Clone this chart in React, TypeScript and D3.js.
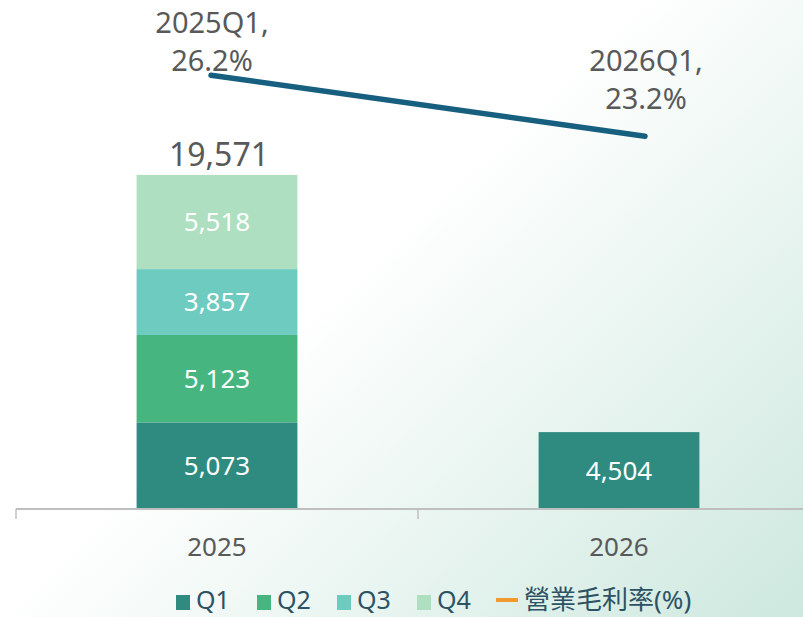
import React from "react";
import * as d3 from "d3";

const years = ["2025", "2026"];
const seriesNames = ["Q1", "Q2", "Q3", "Q4"];
const q1 = [5073, 4504];
const q2 = [5123, 0];
const q3 = [3857, 0];
const q4 = [5518, 0];
const totals = [19571, null];
const marginLabels = ["2025Q1", "2026Q1"];
const marginValues = [26.2, 23.2];
const lineName = "營業毛利率(%)";

const colors = ["#2f8b7f", "#47b57f", "#6dcbc0", "#aedfc0"];
const lineColor = "#175f7f";
const labelLift = [0, 23];
const W = 803;
const H = 617;
const FONT = "'Noto Sans', 'Noto Sans CJK TC', sans-serif";

export default function App() {
  const x = d3.scaleBand<string>().domain(years).range([16, 820]).paddingInner(0).paddingOuter(0);
  const y = d3.scaleLinear().domain([0, 24000]).range([509, 99.3]);
  const xLine = d3.scalePoint<string>().domain(marginLabels).range([211, 645]);
  const yLine = d3.scaleLinear().domain([0, 30]).range([608, -2]);

  const rows = years.map((yr, i) => ({ year: yr, Q1: q1[i], Q2: q2[i], Q3: q3[i], Q4: q4[i] }));
  const stack = d3.stack<any>().keys(seriesNames)(rows);
  const bw = x.bandwidth() * 0.4;

  const lineGen = d3
    .line<number>()
    .x((_, i) => xLine(marginLabels[i]) as number)
    .y((d) => yLine(d));

  const fmt = d3.format(",");

  const legendItems = [
    { label: "Q1", color: colors[0], x: 176 },
    { label: "Q2", color: colors[1], x: 257 },
    { label: "Q3", color: colors[2], x: 337 },
    { label: "Q4", color: colors[3], x: 417 },
  ];

  return (
    <svg width={W} height={H} style={{ position: "absolute", left: 0, top: 0 }} fontFamily={FONT}>
      <defs>
        <linearGradient id="bg" x1="0.38" y1="0.5" x2="1" y2="1">
          <stop offset="0" stopColor="#ffffff" />
          <stop offset="1" stopColor="#cde8de" />
        </linearGradient>
      </defs>
      <rect x={0} y={0} width={W} height={H} fill="url(#bg)" />

      {stack.map((s, si) =>
        s.map((d, i) => {
          const v = d[1] - d[0];
          if (!v) return null;
          const x0 = (x(years[i]) as number) + (x.bandwidth() - bw) / 2;
          const y0 = y(d[1]);
          const h = y(d[0]) - y(d[1]);
          return (
            <g key={`${si}-${i}`}>
              <rect x={x0} y={y0} width={bw} height={h} fill={colors[si]} />
              <text
                x={x0 + bw / 2}
                y={y0 + h / 2}
                dy="0.36em"
                textAnchor="middle"
                fill="#ffffff"
                fontSize={26}
              >
                {fmt(v)}
              </text>
            </g>
          );
        })
      )}

      {totals.map((t, i) =>
        t == null ? null : (
          <text
            key={`t${i}`}
            x={(x(years[i]) as number) + x.bandwidth() / 2 + 2}
            y={y(t) - 9}
            textAnchor="middle"
            fill="#595959"
            fontSize={32}
          >
            {fmt(t)}
          </text>
        )
      )}

      {/* axis */}
      <line x1={16} x2={W} y1={509} y2={509} stroke="#bfbfbf" strokeWidth={2} />
      {[...years.map((yr) => x(yr) as number), 16 + x.bandwidth() * 2].map((tx, i) => (
        <line key={`tk${i}`} x1={tx} x2={tx} y1={509} y2={519} stroke="#bfbfbf" strokeWidth={1.5} />
      ))}
      {years.map((yr) => (
        <text
          key={yr}
          x={(x(yr) as number) + x.bandwidth() / 2}
          y={556}
          textAnchor="middle"
          fill="#595959"
          fontSize={26}
        >
          {yr}
        </text>
      ))}

      {/* line */}
      <path d={lineGen(marginValues) || ""} fill="none" stroke={lineColor} strokeWidth={5.5} strokeLinecap="round" />
      {marginValues.map((v, i) => {
        const px = xLine(marginLabels[i]) as number;
        const py = yLine(v) - labelLift[i];
        return (
          <text key={`ml${i}`} x={px + 1} textAnchor="middle" fill="#595959" fontSize={29}>
            <tspan x={px + 1} y={py - 42}>{marginLabels[i] + ","}</tspan>
            <tspan x={px + 1} y={py - 4}>{v.toFixed(1) + "%"}</tspan>
          </text>
        );
      })}

      {/* legend */}
      {legendItems.map((it) => (
        <g key={it.label}>
          <rect x={it.x} y={595} width={14} height={15} fill={it.color} />
          <text x={it.x + 20} y={609} fill="#2c5264" fontSize={25}>
            {it.label}
          </text>
        </g>
      ))}
      <line x1={496} x2={518} y1={600} y2={600} stroke="#f09a30" strokeWidth={4} />
      <text x={524} y={609} fill="#2c5264" fontSize={26}>
        {lineName}
      </text>
    </svg>
  );
}
